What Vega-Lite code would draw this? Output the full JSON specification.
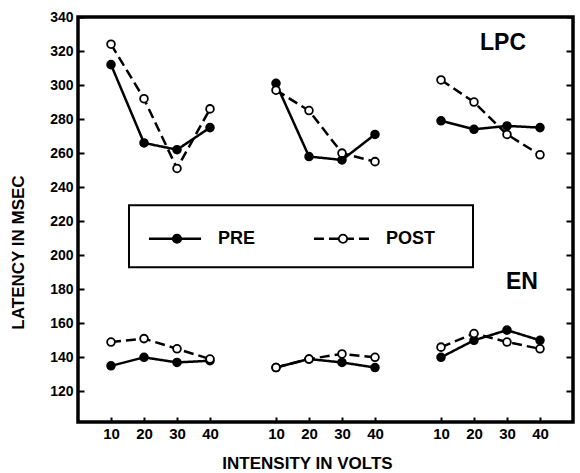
{
  "$schema": "https://vega.github.io/schema/vega-lite/v6.json",
  "width": 495,
  "height": 405,
  "autosize": {"type": "none"},
  "padding": {"left": 78, "top": 17, "right": 7, "bottom": 51},
  "background": "white",
  "config": {
    "view": {"stroke": "black", "strokeWidth": 3.5},
    "axis": {
      "domain": false, "grid": false, "tickColor": "black", "tickWidth": 2,
      "labelColor": "black", "titleColor": "black",
      "labelFont": "Liberation Sans", "titleFont": "Liberation Sans",
      "labelFontWeight": "bold", "titleFontWeight": "bold", "labelFlush": false
    }
  },
  "data": {
    "values": [
      {"comp": "LPC", "series": "PRE", "grp": 1, "volts": 10, "slot": 0, "latency": 312},
      {"comp": "LPC", "series": "PRE", "grp": 1, "volts": 20, "slot": 1, "latency": 266},
      {"comp": "LPC", "series": "PRE", "grp": 1, "volts": 30, "slot": 2, "latency": 262},
      {"comp": "LPC", "series": "PRE", "grp": 1, "volts": 40, "slot": 3, "latency": 275},
      {"comp": "LPC", "series": "PRE", "grp": 2, "volts": 10, "slot": 5, "latency": 301},
      {"comp": "LPC", "series": "PRE", "grp": 2, "volts": 20, "slot": 6, "latency": 258},
      {"comp": "LPC", "series": "PRE", "grp": 2, "volts": 30, "slot": 7, "latency": 256},
      {"comp": "LPC", "series": "PRE", "grp": 2, "volts": 40, "slot": 8, "latency": 271},
      {"comp": "LPC", "series": "PRE", "grp": 3, "volts": 10, "slot": 10, "latency": 279},
      {"comp": "LPC", "series": "PRE", "grp": 3, "volts": 20, "slot": 11, "latency": 274},
      {"comp": "LPC", "series": "PRE", "grp": 3, "volts": 30, "slot": 12, "latency": 276},
      {"comp": "LPC", "series": "PRE", "grp": 3, "volts": 40, "slot": 13, "latency": 275},
      {"comp": "LPC", "series": "POST", "grp": 1, "volts": 10, "slot": 0, "latency": 324},
      {"comp": "LPC", "series": "POST", "grp": 1, "volts": 20, "slot": 1, "latency": 292},
      {"comp": "LPC", "series": "POST", "grp": 1, "volts": 30, "slot": 2, "latency": 251},
      {"comp": "LPC", "series": "POST", "grp": 1, "volts": 40, "slot": 3, "latency": 286},
      {"comp": "LPC", "series": "POST", "grp": 2, "volts": 10, "slot": 5, "latency": 297},
      {"comp": "LPC", "series": "POST", "grp": 2, "volts": 20, "slot": 6, "latency": 285},
      {"comp": "LPC", "series": "POST", "grp": 2, "volts": 30, "slot": 7, "latency": 260},
      {"comp": "LPC", "series": "POST", "grp": 2, "volts": 40, "slot": 8, "latency": 255},
      {"comp": "LPC", "series": "POST", "grp": 3, "volts": 10, "slot": 10, "latency": 303},
      {"comp": "LPC", "series": "POST", "grp": 3, "volts": 20, "slot": 11, "latency": 290},
      {"comp": "LPC", "series": "POST", "grp": 3, "volts": 30, "slot": 12, "latency": 271},
      {"comp": "LPC", "series": "POST", "grp": 3, "volts": 40, "slot": 13, "latency": 259},
      {"comp": "EN", "series": "PRE", "grp": 1, "volts": 10, "slot": 0, "latency": 135},
      {"comp": "EN", "series": "PRE", "grp": 1, "volts": 20, "slot": 1, "latency": 140},
      {"comp": "EN", "series": "PRE", "grp": 1, "volts": 30, "slot": 2, "latency": 137},
      {"comp": "EN", "series": "PRE", "grp": 1, "volts": 40, "slot": 3, "latency": 138},
      {"comp": "EN", "series": "PRE", "grp": 2, "volts": 10, "slot": 5, "latency": 134},
      {"comp": "EN", "series": "PRE", "grp": 2, "volts": 20, "slot": 6, "latency": 139},
      {"comp": "EN", "series": "PRE", "grp": 2, "volts": 30, "slot": 7, "latency": 137},
      {"comp": "EN", "series": "PRE", "grp": 2, "volts": 40, "slot": 8, "latency": 134},
      {"comp": "EN", "series": "PRE", "grp": 3, "volts": 10, "slot": 10, "latency": 140},
      {"comp": "EN", "series": "PRE", "grp": 3, "volts": 20, "slot": 11, "latency": 150},
      {"comp": "EN", "series": "PRE", "grp": 3, "volts": 30, "slot": 12, "latency": 156},
      {"comp": "EN", "series": "PRE", "grp": 3, "volts": 40, "slot": 13, "latency": 150},
      {"comp": "EN", "series": "POST", "grp": 1, "volts": 10, "slot": 0, "latency": 149},
      {"comp": "EN", "series": "POST", "grp": 1, "volts": 20, "slot": 1, "latency": 151},
      {"comp": "EN", "series": "POST", "grp": 1, "volts": 30, "slot": 2, "latency": 145},
      {"comp": "EN", "series": "POST", "grp": 1, "volts": 40, "slot": 3, "latency": 139},
      {"comp": "EN", "series": "POST", "grp": 2, "volts": 10, "slot": 5, "latency": 134},
      {"comp": "EN", "series": "POST", "grp": 2, "volts": 20, "slot": 6, "latency": 139},
      {"comp": "EN", "series": "POST", "grp": 2, "volts": 30, "slot": 7, "latency": 142},
      {"comp": "EN", "series": "POST", "grp": 2, "volts": 40, "slot": 8, "latency": 140},
      {"comp": "EN", "series": "POST", "grp": 3, "volts": 10, "slot": 10, "latency": 146},
      {"comp": "EN", "series": "POST", "grp": 3, "volts": 20, "slot": 11, "latency": 154},
      {"comp": "EN", "series": "POST", "grp": 3, "volts": 30, "slot": 12, "latency": 149},
      {"comp": "EN", "series": "POST", "grp": 3, "volts": 40, "slot": 13, "latency": 145}
    ]
  },
  "encoding": {
    "x": {
      "field": "slot", "type": "quantitative",
      "scale": {"domain": [-1, 14], "nice": false, "zero": false},
      "axis": {
        "values": [0, 1, 2, 3, 5, 6, 7, 8, 10, 11, 12, 13],
        "labelExpr": "['10','20','30','40'][datum.value % 5]",
        "tickSize": -5, "labelPadding": 9, "labelFontSize": 15,
        "title": "INTENSITY IN VOLTS", "titleFontSize": 17,
        "titleX": 229, "titleY": 46, "titleBaseline": "alphabetic"
      }
    }
  },
  "resolve": {"axis": {"y": "independent"}},
  "layer": [
    {
      "mark": {"type": "line", "color": "black", "strokeWidth": 2.5},
      "encoding": {
        "y": {
          "field": "latency", "type": "quantitative",
          "scale": {"domain": [102, 340], "nice": false, "zero": false},
          "axis": {
            "orient": "left",
            "values": [120, 140, 160, 180, 200, 220, 240, 260, 280, 300, 320, 340],
            "tickSize": -6, "labelPadding": 11, "labelFontSize": 14,
            "title": "LATENCY IN MSEC", "titleFontSize": 17,
            "titleX": -60, "titleY": 235, "titleBaseline": "middle"
          }
        },
        "detail": [{"field": "comp"}, {"field": "grp"}],
        "strokeDash": {
          "field": "series", "type": "nominal",
          "scale": {"domain": ["PRE", "POST"], "range": [[1, 0], [10, 5]]},
          "legend": null
        }
      }
    },
    {
      "mark": {"type": "point", "shape": "circle", "size": 60, "stroke": "black", "strokeWidth": 1.8, "filled": true, "opacity": 1},
      "encoding": {
        "y": {
          "field": "latency", "type": "quantitative",
          "axis": {
            "orient": "right", "labels": false, "title": null, "tickSize": -7,
            "values": [120, 140, 160, 180, 200, 220, 240, 260, 280, 300, 320, 340]
          }
        },
        "fill": {"condition": {"test": "datum.series === 'PRE'", "value": "black"}, "value": "white"}
      }
    },
    {
      "data": {"values": [{"slot": 0.545, "slot2": 10.97, "latency": 229.4, "latency2": 192.9}]},
      "mark": {"type": "rect", "fill": "white", "stroke": "black", "strokeWidth": 2},
      "encoding": {
        "x2": {"field": "slot2"},
        "y": {"field": "latency", "type": "quantitative", "axis": null},
        "y2": {"field": "latency2"}
      }
    },
    {
      "data": {
        "values": [
          {"series": "PRE", "slot": 1.15, "slot2": 2.73, "dot": 2.0, "tx": 3.24, "latency": 209.7},
          {"series": "POST", "slot": 6.15, "slot2": 7.88, "dot": 7.03, "tx": 8.33, "latency": 209.7}
        ]
      },
      "layer": [
        {
          "mark": {"type": "rule", "color": "black", "strokeWidth": 2.5},
          "encoding": {
            "x2": {"field": "slot2"},
            "y": {"field": "latency", "type": "quantitative", "axis": null},
            "strokeDash": {"field": "series", "type": "nominal", "legend": null}
          }
        },
        {
          "mark": {"type": "point", "shape": "circle", "size": 70, "stroke": "black", "strokeWidth": 1.8, "filled": true, "opacity": 1},
          "encoding": {
            "x": {"field": "dot", "type": "quantitative"},
            "y": {"field": "latency", "type": "quantitative", "axis": null},
            "fill": {"condition": {"test": "datum.series === 'PRE'", "value": "black"}, "value": "white"}
          }
        },
        {
          "mark": {"type": "text", "font": "Liberation Sans", "fontWeight": "bold", "fontSize": 18, "align": "left", "baseline": "middle", "color": "black"},
          "encoding": {
            "x": {"field": "tx", "type": "quantitative"},
            "y": {"field": "latency", "type": "quantitative", "axis": null},
            "text": {"field": "series"}
          }
        }
      ]
    },
    {
      "data": {
        "values": [
          {"label": "LPC", "slot": 11.88, "latency": 324.5},
          {"label": "EN", "slot": 12.45, "latency": 184.5}
        ]
      },
      "mark": {"type": "text", "font": "Liberation Sans", "fontWeight": "bold", "fontSize": 23, "align": "center", "baseline": "middle", "color": "black"},
      "encoding": {
        "y": {"field": "latency", "type": "quantitative", "axis": null},
        "text": {"field": "label"}
      }
    }
  ]
}
